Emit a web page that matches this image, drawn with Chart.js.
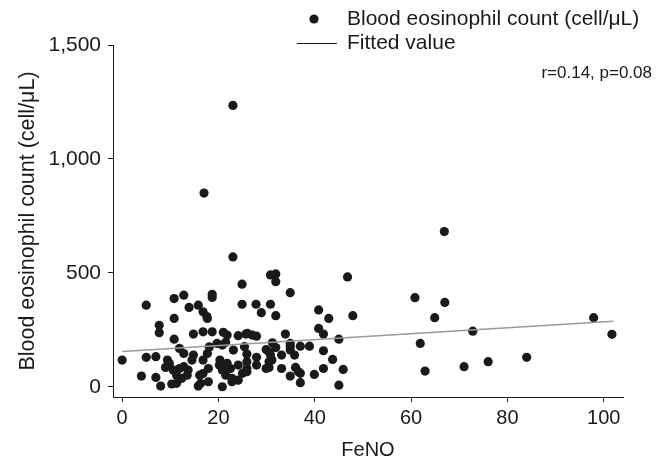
<!DOCTYPE html>
<html><head><meta charset="utf-8">
<script src="https://cdn.jsdelivr.net/npm/chart.js@4.4.1/dist/chart.umd.min.js"></script>
<style>html,body{margin:0;padding:0;background:#fff;}#wrap{width:657px;height:464px;position:relative;}</style>
</head><body><div id="wrap"><canvas id="c" width="657" height="464"></canvas></div>
<script>
// FeNO (x) and blood eosinophil count (y) for each patient
const fenoValues = [
  0,5,4,5,7,7,8,7.7,7.7,10.8,12.8,10.8,10.8,13.9,15.8,16.8,17.6,17.7,18.7,18.7,
  14.8,16.8,18.7,11.9,14.8,9.4,9.8,9,10.6,11.9,12.8,13.5,11.3,10.3,11.3,15.8,17.9,16.8,17.7,18.1,
  16.8,16.1,19.7,20.3,14.5,12.8,12.4,17.9,16.3,13.7,
  21.0,21.8,24.1,25.7,20.8,21.5,23.1,25.4,20.2,20.8,21.5,22.5,22.8,20.8,24.1,25.0,24.1,
  23,17,23,
  24.9,30.8,31.9,31.9,34.9,24.9,27.8,30.8,28.9,31.9,40.8,42.9,40.8,41.8,33.9,45.0,26.0,27.0,27.9,31.2,
  34.9,37.0,38.9,29.9,30.5,31.9,33.1,35.8,34.9,41.8,43.7,25.9,25.9,25.9,27.9,27.9,30.5,30.5,33.1,36.0,
  36.6,34.9,37.0,39.9,41.8,45.0,45.9,21.8,22.8,31.1,29.9,30.8,37.0,25.9,34.9,46.8,47.9,
  60.8,61.9,62.9,64.9,66.9,67.0,71.0,72.8,76.0,84.0,97.9,101.7
];
const eosValues = [
  117,358,47,129,132,41,3,270,237,387,402,300,209,348,358,329,308,300,406,392,
  231,241,241,168,139,117,102,85,73,80,88,51,51,12,15,3,22,117,146,175,
  58,51,190,117,117,146,37,80,15,73,
  239,227,224,231,183,195,161,176,95,73,51,80,22,0,29,59,95,
  1235,850,570,
  450,491,495,461,413,362,362,362,325,312,337,300,256,231,231,209,234,227,222,193,
  178,178,178,163,153,172,139,139,161,158,120,144,110,80,129,95,110,85,80,85,
  66,47,18,54,80,7,76,103,37,117,80,139,59,66,190,482,312,
  391,190,69,303,681,370,88,244,110,129,303,230
];
// Fitted regression line end points
const fitFeno = [0, 102];
const fitEos = [155, 288];
// Axis ticks
const xTickValues = [0, 20, 40, 60, 80, 100];
const yTickValues = [0, 500, 1000, 1500];
// Texts
const seriesLabels = ['Blood eosinophil count (cell/\u03bcL)', 'Fitted value'];
const xTitle = 'FeNO';
const yTitle = 'Blood eosinophil count (cell/\u03bcL)';
const statText = 'r=0.14, p=0.08';

const FAM = '"Liberation Sans", Arial, Helvetica, sans-serif';
const INK = '#1a1a1a';

const scatterData = fenoValues.map((x, i) => ({x: x, y: eosValues[i]}));
const fitData = fitFeno.map((x, i) => ({x: x, y: fitEos[i]}));

const legendPlugin = {
  id: 'stataLegend',
  afterDraw(chart) {
    const ctx = chart.ctx;
    ctx.save();
    ctx.font = '21px ' + FAM;
    ctx.fillStyle = INK;
    ctx.textBaseline = 'middle';
    ctx.textAlign = 'left';
    ctx.beginPath();
    ctx.arc(314, 19, 4.6, 0, Math.PI * 2);
    ctx.fill();
    ctx.fillText(seriesLabels[0], 347, 19);
    ctx.strokeStyle = INK;
    ctx.lineWidth = 1;
    ctx.beginPath();
    ctx.moveTo(297, 43.5);
    ctx.lineTo(337, 43.5);
    ctx.stroke();
    ctx.fillText(seriesLabels[1], 347, 43);
    ctx.font = '17px ' + FAM;
    ctx.textAlign = 'right';
    ctx.fillText(statText, 652, 73);
    ctx.restore();
  }
};

new Chart(document.getElementById('c'), {
  data: {
    datasets: [
      {type: 'line', label: seriesLabels[1], data: fitData, borderColor: '#999999', borderWidth: 1.5,
       pointRadius: 0, fill: false, order: 0},
      {type: 'scatter', label: seriesLabels[0], data: scatterData, backgroundColor: INK,
       borderWidth: 0, pointRadius: 4.6, pointHoverRadius: 4.6, order: 1}
    ]
  },
  options: {
    responsive: false,
    animation: false,
    devicePixelRatio: 1,
    layout: {padding: {top: 45, right: 34, left: 0, bottom: 0}},
    plugins: {legend: {display: false}, tooltip: {enabled: false}},
    scales: {
      x: {
        type: 'linear', min: -1.9, max: 104,
        afterBuildTicks: s => { s.ticks = xTickValues.map(v => ({value: v})); },
        afterFit: s => { s.height = 67; },
        grid: {drawOnChartArea: false, drawTicks: true, tickLength: 5, color: INK, tickWidth: 1},
        border: {display: true, color: INK, width: 1},
        ticks: {color: INK, font: {size: 20, family: FAM}, padding: 4, maxRotation: 0, autoSkip: false},
        title: {display: true, text: xTitle, color: INK, font: {size: 20, family: FAM}, padding: {top: 0, bottom: 2}}
      },
      y: {
        type: 'linear', min: -45, max: 1500,
        afterBuildTicks: s => { s.ticks = yTickValues.map(v => ({value: v})); },
        afterFit: s => { s.width = 113; },
        grid: {drawOnChartArea: false, drawTicks: true, tickLength: 5, color: INK, tickWidth: 1},
        border: {display: true, color: INK, width: 1},
        ticks: {color: INK, font: {size: 21, family: FAM}, padding: 7, autoSkip: false,
                callback: v => v.toLocaleString('en-US')},
        title: {display: true, text: yTitle, color: INK, font: {size: 21.5, family: FAM}, padding: {top: 15, bottom: 0}}
      }
    }
  },
  plugins: [legendPlugin]
});
</script>
</body></html>
